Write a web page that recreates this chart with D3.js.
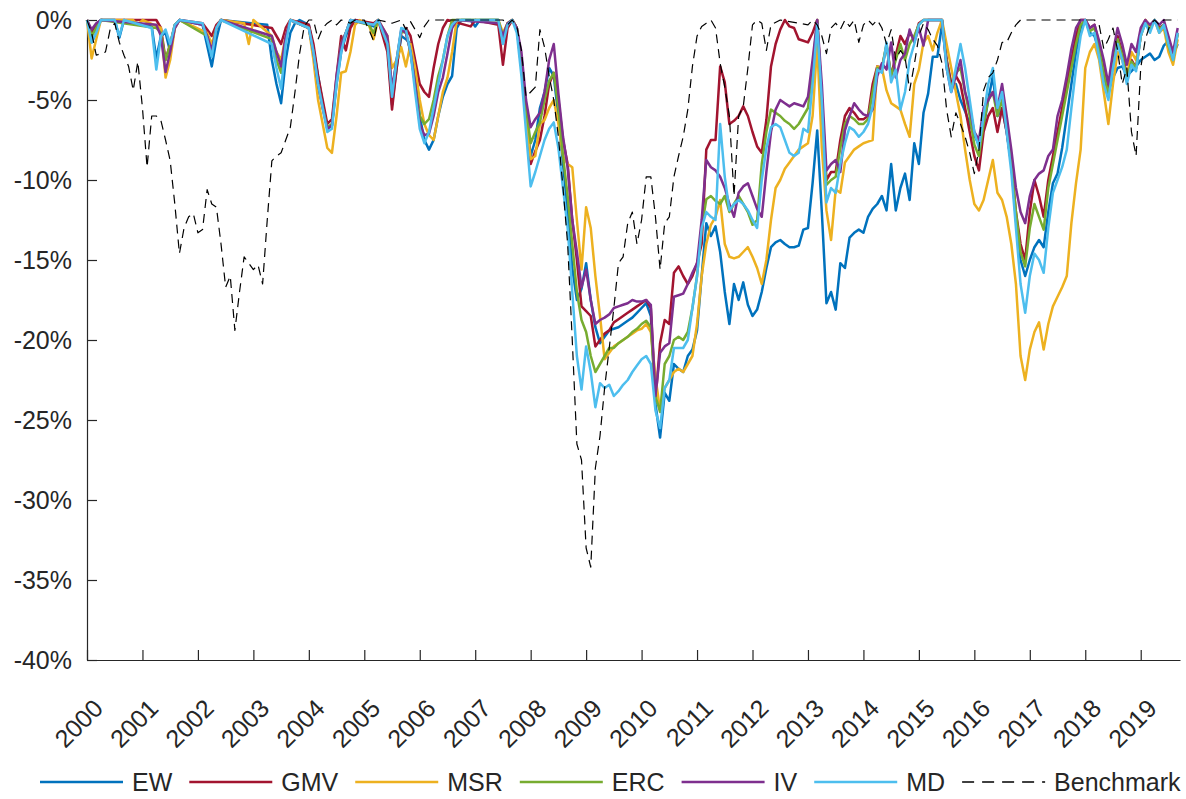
<!DOCTYPE html>
<html>
<head>
<meta charset="utf-8">
<script src="https://cdn.jsdelivr.net/npm/d3@7"></script>
<style>
  body { margin: 0; background: #fff; }
  text { font-family: 'Liberation Sans', Arial, Helvetica, sans-serif; fill: #262626; }
</style>
</head>
<body>
<div id="content"></div>
<script>
// month index (0 = Jan 2000), drawdown in %
const ewDrawdown = [[0,0],[1,-1.4],[2,-0.8],[3,0],[6,0],[7,-1.1],[8,0],[14,-0.4],[15,-2.4],[16,-1],[17,-0.8],[18,-2],[19,-0.5],[20,0],[25,-0.3],[26,-1.6],[27,-2.9],[28,-1.2],[29,0],[39,-0.3],[40,-2.5],[41,-4],[42,-5.2],[43,-2.5],[44,-0.8],[45,-0.2],[46,0],[48,-0.3],[49,-1.8],[50,-3.5],[51,-5.2],[52,-6.8],[53,-6.6],[54,-4],[55,-2],[56,-1],[57,-0.3],[58,0],[62,-0.4],[63,0],[65,-1.5],[66,-5.3],[67,-3],[68,-1],[69,-1.2],[70,-1.5],[71,-3.5],[72,-6],[73,-7.5],[74,-8.1],[75,-7.5],[76,-6],[77,-4.8],[78,-4],[79,-3.5],[80,-0.5],[81,0],[83,0],[84,-0.4],[85,0],[89,0],[90,-1.4],[91,-0.3],[92,0],[93,-0.5],[94,-2.5],[95,-6],[96,-8.5],[97,-7.5],[98,-5.5],[99,-4.5],[100,-3],[101,-3.5],[102,-6],[103,-9],[104,-12],[105,-15.5],[106,-17.5],[107,-16.8],[108,-15.2],[109,-17.5],[110,-19.2],[111,-20.2],[112,-19.8],[113,-19.4],[114,-19.3],[115,-19.2],[116,-19],[117,-18.8],[118,-18.6],[119,-18.3],[120,-18],[121,-17.7],[122,-18.5],[123,-24],[124,-26.1],[125,-23.3],[126,-23.8],[127,-21.5],[128,-21.8],[129,-22],[130,-21],[131,-20.6],[132,-19.4],[133,-16],[134,-12.7],[135,-13.5],[136,-12.9],[137,-14.5],[138,-17],[139,-19],[140,-16.5],[141,-17.5],[142,-16.4],[143,-17.8],[144,-18.5],[145,-18.1],[146,-17],[147,-15.5],[148,-14.2],[149,-13.9],[150,-13.75],[151,-14],[152,-14.2],[153,-14.2],[154,-14.1],[155,-13.1],[156,-13],[157,-10.2],[158,-6.9],[159,-12],[160,-17.7],[161,-17],[162,-18.1],[163,-15.2],[164,-15.5],[165,-13.6],[166,-13.3],[167,-13.1],[168,-13.3],[169,-12.3],[170,-11.8],[171,-11.5],[172,-11],[173,-11.9],[174,-9],[175,-11.9],[176,-10.5],[177,-9.6],[178,-11.25],[179,-7.7],[180,-9],[181,-5.8],[182,-4.6],[183,-2.3],[184,-2.3],[185,-0.3],[186,-2.5],[187,-4],[188,-4],[189,-5],[190,-5.7],[191,-6.5],[192,-7.2],[193,-7.8],[194,-6.7],[195,-5],[196,-3.5],[197,-6],[198,-5.5],[199,-7],[200,-9],[201,-12.5],[202,-15],[203,-16],[204,-15],[205,-14.2],[206,-13.75],[207,-14.2],[208,-12],[209,-10.2],[210,-9.6],[211,-8],[212,-6],[213,-4],[214,-2],[215,-0.5],[216,0],[217,-0.8],[218,-1],[219,-2],[220,-3.5],[221,-4.5],[222,-3.6],[223,-3],[224,-2.9],[225,-3.5],[226,-3.2],[227,-2.9],[228,-2.5],[229,-2.3],[230,-2.1],[231,-2.5],[232,-2.3],[233,-1.6],[234,-1.3],[235,-2.2],[236,-1.5]]

const gmvDrawdown = [[0,0],[1,-0.8],[2,-0.3],[3,0],[15,0],[16,-0.5],[17,-2.5],[18,-1.5],[19,-0.3],[20,0],[25,-0.2],[26,-0.6],[27,-1],[28,-0.3],[29,0],[40,-0.5],[41,-1],[42,-1.5],[43,-0.5],[44,0],[48,-0.3],[49,-1.5],[50,-3.5],[51,-5],[52,-6.5],[53,-6.2],[54,-3.5],[55,-1],[56,-1.9],[57,-0.5],[58,0],[62,-0.2],[63,0],[65,-2],[66,-5.6],[67,-3],[68,-0.8],[69,-0.5],[70,-1],[71,-2.5],[72,-4],[73,-4.5],[74,-4.8],[75,-3],[76,-1.5],[77,-0.5],[78,0],[83,-0.4],[84,0],[89,-0.3],[90,-2.8],[91,-0.5],[92,0],[93,-0.5],[94,-3],[95,-6],[96,-9],[97,-8.2],[98,-7.5],[99,-6],[100,-4],[101,-3.3],[102,-5],[103,-7.5],[104,-9],[105,-12.5],[106,-15],[107,-17.9],[108,-18.2],[109,-18.5],[110,-20.4],[111,-20],[112,-19.6],[113,-19.4],[114,-18.9],[115,-18.7],[116,-18.5],[117,-18.3],[118,-18.1],[119,-17.9],[120,-17.7],[121,-17.5],[122,-18],[123,-23.8],[124,-20.2],[125,-18.75],[126,-19],[127,-15.8],[128,-15.4],[129,-16],[130,-16.5],[131,-16],[132,-15.2],[133,-14],[134,-8.1],[135,-7.5],[136,-7.5],[137,-2.9],[138,-3.9],[139,-6.5],[140,-6.3],[141,-6],[142,-5.4],[143,-6],[144,-7],[145,-7.9],[146,-8.3],[147,-6.25],[148,-2.9],[149,-1.5],[150,-0.6],[151,0],[152,-0.4],[153,-0.5],[154,-1.2],[155,-1.3],[156,-1.4],[157,-0.8],[158,0],[159,-5],[160,-10],[161,-9.5],[162,-9.5],[163,-7.5],[164,-6],[165,-5.5],[166,-5.8],[167,-6.2],[168,-6.2],[169,-6],[170,-4],[171,-2.9],[172,-3],[173,-1.6],[174,-3.5],[175,-2.2],[176,-1],[177,-1.5],[178,-0.8],[179,-1.2],[180,-0.2],[181,0],[185,0],[186,-2.5],[187,-4],[188,-3.5],[189,-4],[190,-5.5],[191,-7],[192,-8.5],[193,-9.4],[194,-7],[195,-6],[196,-5.5],[197,-7],[198,-5.5],[199,-7],[200,-9],[201,-12],[202,-14],[203,-15],[204,-12],[205,-10],[206,-11],[207,-12.3],[208,-10],[209,-8.5],[210,-7],[211,-5.5],[212,-4],[213,-2.5],[214,-1],[215,0],[216,0],[217,-0.5],[218,-0.3],[219,-1.5],[220,-3],[221,-4.5],[222,-2.5],[223,-1],[224,-2],[225,-3.5],[226,-2.5],[227,-3],[228,-1],[229,0],[230,-0.5],[231,0],[232,-0.5],[233,-0.3],[234,-1.5],[235,-2.3],[236,-0.8]]

const msrDrawdown = [[0,0],[1,-2.4],[2,-1.2],[3,0],[10,0],[11,-0.3],[12,0],[16,-0.5],[17,-3.6],[18,-2.5],[19,-0.5],[20,0],[26,-0.8],[27,-1.5],[28,-0.5],[29,0],[34,-0.2],[35,-1.5],[36,0],[40,-1],[41,-2],[42,-2.5],[43,-1],[44,0],[48,-0.5],[49,-2.5],[50,-5],[51,-6.5],[52,-8],[53,-8.3],[54,-6],[55,-3.3],[56,-3.2],[57,-2],[58,-0.3],[59,0],[61,-0.3],[62,-1.2],[63,0],[65,-1],[66,-3],[67,-2.5],[68,-1.7],[69,-2.9],[70,-1.5],[71,-3],[72,-5],[73,-6.5],[74,-7.2],[75,-7.5],[76,-6],[77,-4.5],[78,-3.6],[79,-2],[80,0],[89,0],[90,-0.8],[91,-0.2],[92,0],[93,-0.5],[94,-3],[95,-6],[96,-8.7],[97,-8.5],[98,-6.5],[99,-6.25],[100,-5.5],[101,-5],[102,-6.5],[103,-8.5],[104,-9],[105,-9.2],[106,-12.5],[107,-15.6],[108,-11.7],[109,-13],[110,-16],[111,-18.5],[112,-21.2],[113,-20.8],[114,-20.4],[115,-20.2],[116,-20],[117,-19.8],[118,-19.6],[119,-19.4],[120,-19.3],[121,-19],[122,-19.5],[123,-22.3],[124,-24.4],[125,-23],[126,-22.5],[127,-22],[128,-21.8],[129,-22],[130,-21.5],[131,-21],[132,-19],[133,-16],[134,-14],[135,-12.8],[136,-12.3],[137,-11.25],[138,-14],[139,-14.8],[140,-14.9],[141,-14.8],[142,-14.5],[143,-14.2],[144,-14.8],[145,-15.5],[146,-16.5],[147,-15],[148,-12.5],[149,-10.5],[150,-10],[151,-9.3],[152,-8.9],[153,-8.5],[154,-8.1],[155,-7.9],[156,-7.7],[157,-6],[158,-1.5],[159,-8],[160,-11.9],[161,-13.75],[162,-10.6],[163,-10.8],[164,-8.9],[165,-8.5],[166,-8.1],[167,-7.9],[168,-7.7],[169,-7.6],[170,-7.5],[171,-2.9],[172,-3],[173,-4.4],[174,-5.2],[175,-5.4],[176,-5.6],[177,-6.5],[178,-7.3],[179,-4],[180,-3.1],[181,-1.4],[182,-1],[183,-1.9],[184,-0.8],[185,0],[186,-1.5],[187,-3],[188,-4.5],[189,-6],[190,-8.1],[191,-10],[192,-11.5],[193,-11.9],[194,-11.25],[195,-10],[196,-8.75],[197,-10.8],[198,-11.25],[199,-12.3],[200,-14],[201,-16.5],[202,-21],[203,-22.5],[204,-20.6],[205,-19.5],[206,-18.9],[207,-20.6],[208,-19],[209,-17.9],[210,-17.3],[211,-16.7],[212,-16],[213,-12.7],[214,-10.2],[215,-8.1],[216,-3],[217,-2],[218,-1.5],[219,-2.5],[220,-4.5],[221,-6.5],[222,-4],[223,-2],[224,-2.5],[225,-3.5],[226,-2],[227,-2.5],[228,-1],[229,0],[230,-0.5],[231,0],[232,-0.8],[233,-0.5],[234,-2],[235,-2.8],[236,-1.2]]

const ercDrawdown = [[0,0],[1,-1],[2,-0.5],[3,0],[15,-0.5],[16,-0.8],[17,-2.5],[18,-1.5],[19,-0.3],[20,0],[26,-1],[27,-2],[28,-0.5],[29,0],[40,-1.2],[41,-2.5],[42,-3.3],[43,-1.2],[44,0],[48,-0.5],[49,-2],[50,-4],[51,-5.5],[52,-6.7],[53,-6.5],[54,-3.8],[55,-1.5],[56,-0.8],[57,0],[61,-0.3],[62,-0.8],[63,0],[65,-1.2],[66,-4.5],[67,-2.5],[68,-0.7],[69,-0.8],[70,-2],[71,-4],[72,-6],[73,-6.5],[74,-6.2],[75,-5],[76,-3.5],[77,-2.5],[78,-1],[79,0],[89,0],[90,-1],[91,-0.2],[92,0],[93,-0.5],[94,-2.5],[95,-5.5],[96,-7.7],[97,-7],[98,-6.4],[99,-5],[100,-3.8],[101,-3.3],[102,-5.5],[103,-8.5],[104,-11],[105,-14],[106,-17],[107,-18.75],[108,-19.5],[109,-21],[110,-22],[111,-21.5],[112,-21],[113,-20.5],[114,-20.5],[115,-20.2],[116,-20],[117,-19.8],[118,-19.5],[119,-19.3],[120,-19],[121,-18.8],[122,-19.2],[123,-23.5],[124,-24.5],[125,-21.5],[126,-21],[127,-20],[128,-19.8],[129,-20],[130,-19.5],[131,-18],[132,-16],[133,-13],[134,-11.2],[135,-11],[136,-11.3],[137,-11.5],[138,-11],[139,-12],[140,-11.5],[141,-11],[142,-11.5],[143,-12],[144,-12.8],[145,-12.5],[146,-9],[147,-7],[148,-5.6],[149,-5.8],[150,-6],[151,-6.3],[152,-6.5],[153,-6.8],[154,-6.5],[155,-6],[156,-5.5],[157,-3],[158,0],[159,-5],[160,-10.3],[161,-10],[162,-9.8],[163,-8],[164,-6.5],[165,-6],[166,-6.2],[167,-6.5],[168,-6.5],[169,-6.2],[170,-4.5],[171,-3],[172,-3],[173,-1.5],[174,-3.5],[175,-2.5],[176,-1.5],[177,-2.5],[178,-1.5],[179,-1],[180,-0.3],[181,0],[185,0],[186,-2.8],[187,-4.3],[188,-3.3],[189,-3],[190,-4.5],[191,-6],[192,-7.8],[193,-8.5],[194,-6.5],[195,-5],[196,-4.5],[197,-6],[198,-5],[199,-6.5],[200,-9],[201,-12],[202,-14.5],[203,-15.4],[204,-13],[205,-11.5],[206,-12.3],[207,-13.1],[208,-10.5],[209,-9],[210,-7.5],[211,-6],[212,-4.5],[213,-3],[214,-1.5],[215,-0.3],[216,0],[217,-0.7],[218,-0.5],[219,-1.8],[220,-3.3],[221,-4.7],[222,-2.8],[223,-1.2],[224,-2.2],[225,-3.7],[226,-2.6],[227,-3],[228,-1],[229,-0.2],[230,-0.6],[231,0],[232,-0.6],[233,-0.3],[234,-1.6],[235,-2.5],[236,-0.9]]

const ivDrawdown = [[0,0],[1,-0.6],[2,-0.2],[3,0],[15,-0.3],[16,-1],[17,-3.25],[18,-2],[19,-0.5],[20,0],[25,-0.3],[26,-1],[27,-1.9],[28,-0.5],[29,0],[40,-1],[41,-2],[42,-2.9],[43,-1],[44,0],[48,-0.5],[49,-2],[50,-4],[51,-5.5],[52,-6.8],[53,-6.6],[54,-3.5],[55,-1.5],[56,-0.8],[57,0],[62,-0.3],[63,0],[65,-1],[66,-4.3],[67,-2.5],[68,-0.6],[69,-0.8],[70,-2],[71,-4],[72,-6.5],[73,-7.2],[74,-7.1],[75,-6],[76,-4.5],[77,-3.6],[78,-2.1],[79,-0.5],[80,0],[89,-0.2],[90,-1],[91,-0.2],[92,0],[93,-0.5],[94,-2],[95,-5],[96,-6.7],[97,-6.2],[98,-5.8],[99,-4.5],[100,-2.5],[101,-1.5],[102,-4.6],[103,-7.3],[104,-9.2],[105,-12.5],[106,-14.5],[107,-16.7],[108,-15.6],[109,-17.5],[110,-19],[111,-18.75],[112,-18.6],[113,-18.4],[114,-18],[115,-17.9],[116,-17.8],[117,-17.7],[118,-17.5],[119,-17.6],[120,-17.6],[121,-17.5],[122,-17.8],[123,-23.5],[124,-20.8],[125,-20.4],[126,-20.2],[127,-17.3],[128,-17.2],[129,-17.1],[130,-16.5],[131,-15.8],[132,-15.2],[133,-12.5],[134,-8.75],[135,-9.2],[136,-9.4],[137,-9.8],[138,-10.5],[139,-11.5],[140,-12.3],[141,-10.8],[142,-10.4],[143,-10.2],[144,-11],[145,-11.8],[146,-12.3],[147,-9.5],[148,-7],[149,-5.6],[150,-5],[151,-5.2],[152,-5.4],[153,-5.2],[154,-5.3],[155,-5.4],[156,-4.8],[157,-2.5],[158,0],[159,-4],[160,-9.4],[161,-9],[162,-8.75],[163,-9.5],[164,-6.9],[165,-6],[166,-5.2],[167,-5.6],[168,-5.9],[169,-6],[170,-5.6],[171,-3.5],[172,-2.7],[173,-3.1],[174,-1.4],[175,-3.6],[176,-2.5],[177,-2.1],[178,-0.6],[179,-1.4],[180,-0.5],[181,-1.6],[182,0],[185,0],[186,-3],[187,-4.5],[188,-3.5],[189,-2.5],[190,-4.5],[191,-5.5],[192,-7],[193,-7.5],[194,-5.5],[195,-5],[196,-4.5],[197,-5.5],[198,-4],[199,-6],[200,-8.1],[201,-10.5],[202,-12],[203,-12.7],[204,-11],[205,-10],[206,-9.6],[207,-9.4],[208,-8.5],[209,-8.1],[210,-6],[211,-5],[212,-3.5],[213,-1.8],[214,-0.5],[215,0],[216,0],[217,-0.5],[218,-0.3],[219,-1.3],[220,-2.5],[221,-4],[222,-2],[223,-0.5],[224,-1.5],[225,-2.8],[226,-1.5],[227,-2],[228,-0.5],[229,0],[230,-0.3],[231,0],[232,-0.3],[233,0],[234,-1],[235,-2],[236,-0.5]]

const mdDrawdown = [[0,0],[1,-1.4],[2,-0.8],[3,0],[6,0],[7,-1],[8,0],[14,-0.5],[15,-3.1],[16,-1],[17,-0.6],[18,-1.5],[19,-0.3],[20,0],[25,-0.2],[26,-1.2],[27,-2.3],[28,-0.5],[29,0],[40,-1.5],[41,-3],[42,-4.3],[43,-1.5],[44,0],[48,-0.5],[49,-2],[50,-4],[51,-5.5],[52,-7],[53,-6.8],[54,-4],[55,-2],[56,-0.8],[57,0],[62,-0.3],[63,0],[65,-1.5],[66,-4.8],[67,-2.5],[68,-0.5],[69,-0.6],[70,-2],[71,-4.5],[72,-6.8],[73,-7.7],[74,-7],[75,-5.5],[76,-4],[77,-2.5],[78,-1],[79,-0.3],[80,0],[89,0],[90,-1.5],[91,-0.3],[92,0],[93,-0.8],[94,-3.5],[95,-7],[96,-10.4],[97,-9.5],[98,-8.5],[99,-7.5],[100,-6.8],[101,-6.4],[102,-8],[103,-10.5],[104,-13],[105,-17],[106,-21],[107,-23.1],[108,-20.4],[109,-22],[110,-24.2],[111,-22.7],[112,-23],[113,-22.8],[114,-23.5],[115,-23.2],[116,-22.8],[117,-22.5],[118,-22],[119,-21.6],[120,-21.2],[121,-21],[122,-21.5],[123,-24.4],[124,-25.5],[125,-23],[126,-22.5],[127,-20.5],[128,-20.5],[129,-20.5],[130,-20],[131,-18],[132,-16],[133,-13],[134,-12],[135,-12.3],[136,-12.5],[137,-6.5],[138,-9.8],[139,-11.9],[140,-11.5],[141,-11.25],[142,-11.5],[143,-11.9],[144,-12.5],[145,-13],[146,-10],[147,-8],[148,-6.7],[149,-6.5],[150,-6.7],[151,-7.5],[152,-8.3],[153,-8.5],[154,-8.3],[155,-6.8],[156,-7],[157,-4],[158,-0.3],[159,-5],[160,-11.4],[161,-10.5],[162,-10.8],[163,-9],[164,-7.7],[165,-6.7],[166,-6.9],[167,-7.3],[168,-7],[169,-6.5],[170,-5.4],[171,-3.1],[172,-3.3],[173,-1.4],[174,-3.9],[175,-3.1],[176,-5.6],[177,-4.5],[178,-2.5],[179,-1.5],[180,-0.3],[181,0],[185,0],[186,-3],[187,-4.5],[188,-3],[189,-1.5],[190,-3],[191,-5],[192,-7],[193,-8],[194,-6],[195,-4],[196,-3],[197,-5.5],[198,-4.5],[199,-7],[200,-9.5],[201,-13],[202,-16.5],[203,-18.3],[204,-16],[205,-14.6],[206,-15],[207,-15.8],[208,-13],[209,-10.8],[210,-10],[211,-9.2],[212,-8.1],[213,-5.5],[214,-3],[215,-1],[216,0],[217,-1],[218,-0.8],[219,-2.3],[220,-4],[221,-5],[222,-3],[223,-1.5],[224,-2.5],[225,-4],[226,-2.8],[227,-3.2],[228,-1],[229,-0.2],[230,-0.8],[231,0],[232,-0.8],[233,-0.3],[234,-1.5],[235,-2.5],[236,-0.8]]

const benchmarkDrawdown = [[0,0],[1,-0.8],[2,-2.2],[3,-2.1],[4,-2],[5,-0.6],[6,-0.2],[7,-1.4],[8,-2.2],[9,-2.9],[10,-4.4],[11,-2.6],[12,-5.5],[13,-9.2],[14,-6],[15,-6],[16,-6.3],[17,-7.5],[18,-8.8],[19,-11.5],[20,-14.6],[21,-13],[22,-12.3],[23,-12.1],[24,-13.3],[25,-13.1],[26,-10.6],[27,-11.5],[28,-11.7],[29,-14],[30,-16.7],[31,-16],[32,-19.4],[33,-17],[34,-14.8],[35,-15.2],[36,-15.6],[37,-15.3],[38,-16.5],[39,-12.5],[40,-8.8],[41,-8.5],[42,-8.3],[43,-7.5],[44,-6.7],[45,-4.5],[46,-2.1],[47,-0.4],[48,0],[49,0],[50,-1.2],[51,-0.5],[52,-0.2],[53,0],[54,-0.3],[55,0],[57,-0.2],[58,0],[60,0],[61,-0.6],[62,-1.3],[63,0],[66,-0.2],[68,0],[69,-0.6],[70,-0.1],[72,-1.1],[73,-0.4],[74,0],[90,0],[91,-0.3],[92,0],[93,-0.4],[94,-1.9],[95,-4.8],[96,-4.5],[97,-4.2],[98,-0.6],[99,-1.7],[100,-3.5],[101,-5],[102,-7.3],[103,-10.5],[104,-14],[105,-20],[106,-26.5],[107,-27.5],[108,-33],[109,-34.2],[110,-28],[111,-26],[112,-23],[113,-20.5],[114,-18],[115,-15.2],[116,-14.8],[117,-12.7],[118,-12],[119,-14],[120,-12.5],[121,-9.8],[122,-9.8],[123,-12.3],[124,-15.6],[125,-12.7],[126,-12.3],[127,-9.8],[128,-8.5],[129,-7.3],[130,-5.6],[131,-2.9],[132,-1],[133,-0.4],[134,-0.2],[135,0],[136,-0.5],[137,-2.7],[138,-4.2],[139,-6],[140,-11],[141,-6],[142,-5.4],[143,-3],[144,-0.3],[145,0],[146,-0.2],[147,-1.9],[148,-0.3],[150,0],[156,-0.3],[157,0],[158,-0.3],[159,-1],[160,-2.1],[161,-0.5],[162,-0.2],[163,-0.6],[164,0],[165,-0.4],[166,0],[167,-1.4],[168,-0.3],[169,0],[170,-0.3],[171,0],[172,-0.5],[173,-1.5],[174,-0.6],[175,-2.5],[176,-1.9],[177,-2.3],[178,-4.4],[179,-2.8],[180,-1],[181,-0.2],[182,-0.6],[183,-1.2],[184,-1.6],[185,-2.7],[186,-5.6],[187,-7.3],[188,-5.8],[189,-6.5],[190,-7.3],[191,-8.3],[192,-9.6],[193,-8.1],[194,-4.4],[195,-3.6],[196,-3.3],[197,-2.5],[198,-1.4],[199,-1.4],[200,-0.8],[201,-0.3],[202,0],[218,0],[219,-0.3],[220,-1.8],[221,-1.2],[222,-0.5],[223,-1.9],[224,-4],[225,-3],[226,-7],[227,-8.5],[228,-3],[229,-1.2],[230,-0.3],[231,0],[232,-0.3],[233,0],[236,0]]

const seriesNames = ['EW', 'GMV', 'MSR', 'ERC', 'IV', 'MD', 'Benchmark']
const seriesColors = ['#0072BD', '#A2142F', '#EDB120', '#77AC30', '#7E2F8E', '#4DBEEE', '#000000']
const seriesData = [ewDrawdown, gmvDrawdown, msrDrawdown, ercDrawdown, ivDrawdown, mdDrawdown, benchmarkDrawdown]
const yTicks = [0, -5, -10, -15, -20, -25, -30, -35, -40]
const yearLabels = d3.range(2000, 2020)

const width = 1186
const height = 799
const plotLeft = 87
const plotRight = 1180
const plotTop = 20
const plotBottom = 660
const fontSize = 25

const svg = d3.select('#content')
    .append('svg')
    .attr('width', width)
    .attr('height', height)

const scaleX = d3.scaleLinear()
    .domain([0, 236.5])
    .range([plotLeft, plotRight])

const scaleY = d3.scaleLinear()
    .domain([-40, 0])
    .range([plotBottom, plotTop])

// axes, MATLAB style: ticks point inward
const xAxis = svg.append('g')
    .attr('transform', `translate(0, ${plotBottom})`)
    .call(d3.axisBottom(scaleX)
        .tickValues(yearLabels.map(yr => (yr - 2000) * 12))
        .tickFormat(d => 2000 + d / 12)
        .tickSizeInner(-10)
        .tickSizeOuter(0))

xAxis.selectAll('text')
    .attr('x', 0)
    .attr('y', 0)
    .attr('dy', 0)
    .attr('text-anchor', 'end')
    .attr('transform', 'translate(17, 50) rotate(-45)')

const yAxis = svg.append('g')
    .attr('transform', `translate(${plotLeft}, 0)`)
    .call(d3.axisLeft(scaleY)
        .tickValues(yTicks)
        .tickFormat(d => `${d}%`)
        .tickSizeInner(-10)
        .tickSizeOuter(0)
        .tickPadding(15))

svg.selectAll('.domain, .tick line')
    .attr('stroke', '#262626')
    .attr('stroke-width', 1.2)

svg.selectAll('.tick text')
    .attr('font-size', fontSize)
    .attr('font-family', "'Liberation Sans', Arial, Helvetica, sans-serif")
    .attr('fill', '#262626')

// lines
const line = d3.line()
    .x(d => scaleX(d[0]))
    .y(d => scaleY(d[1]))

svg.append('g')
    .attr('id', 'lines')
    .selectAll('path')
    .data(seriesData)
    .join('path')
    .attr('d', line)
    .attr('fill', 'none')
    .attr('stroke', (d, i) => seriesColors[i])
    .attr('stroke-width', (d, i) => i === 6 ? 1.2 : 2.5)
    .attr('stroke-dasharray', (d, i) => i === 6 ? '9,6' : null)
    .attr('stroke-linejoin', 'round')

// legend along the bottom
const legend = svg.append('g')
    .attr('id', 'legend')
    .attr('transform', 'translate(0, 782)')

let cursor = 40
seriesNames.forEach((name, i) => {
    const item = legend.append('g')
    item.append('line')
        .attr('x1', cursor)
        .attr('x2', cursor + 83)
        .attr('y1', 0)
        .attr('y2', 0)
        .attr('stroke', seriesColors[i])
        .attr('stroke-width', i === 6 ? 1.5 : 2.5)
        .attr('stroke-dasharray', i === 6 ? '12,8' : null)
    const label = item.append('text')
        .text(name)
        .attr('x', cursor + 92)
        .attr('y', 9)
        .attr('font-size', fontSize)
    cursor += 92 + label.node().getComputedTextLength() + 17
})
</script>
</body>
</html>
